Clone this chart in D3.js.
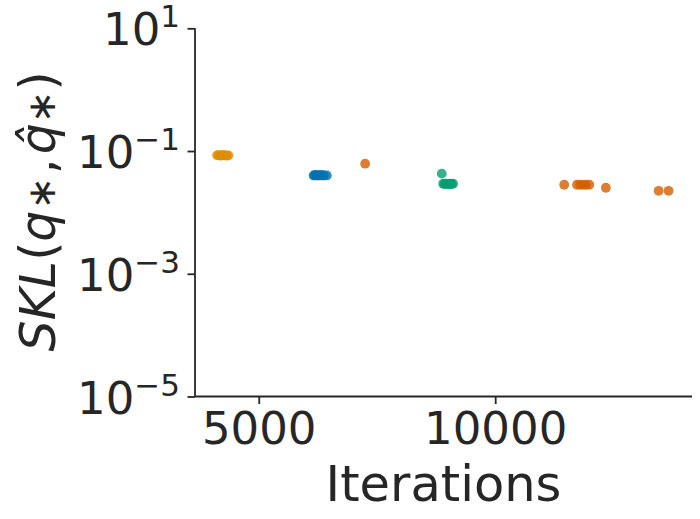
<!DOCTYPE html>
<html>
<head>
<meta charset="utf-8">
<script src="https://cdn.jsdelivr.net/npm/d3@7"></script>
<style>
  html, body { margin: 0; padding: 0; background: #ffffff; }
  svg { display: block; font-family: "DejaVu Sans", sans-serif; }
</style>
</head>
<body>
<svg id="chart" width="700" height="519"></svg>
<script>
// ---- data ----
const yellowX = [4120, 4150, 4180, 4200, 4220, 4250, 4270, 4300, 4330, 4360];
const yellowY = [0.085, 0.086, 0.085, 0.084, 0.085, 0.086, 0.085, 0.085, 0.084, 0.085];
const blueX = [6160, 6180, 6200, 6230, 6260, 6290, 6320, 6350, 6380, 6440];
const blueY = [0.040, 0.040, 0.041, 0.040, 0.040, 0.040, 0.041, 0.040, 0.040, 0.040];
const greenX = [8870, 8900, 8930, 8960, 8990, 9010, 9040, 9060, 9080, 9110];
const greenY = [0.0428, 0.0293, 0.0290, 0.0295, 0.0292, 0.0290, 0.0293, 0.0291, 0.0292, 0.0293];
const orangeX = [7250, 11460, 11730, 11800, 11860, 11920, 11990, 12340, 13456, 13667];
const orangeY = [0.0622, 0.0282, 0.0282, 0.0282, 0.0281, 0.0282, 0.0282, 0.0252, 0.0225, 0.0225];
const seriesNames = ["yellow", "blue", "green", "orange"];
const seriesColors = ["#de8f05", "#0173b2", "#029e73", "#d55e00"];
const xTicks = [5000, 10000];
const yTickExps = [1, -1, -3, -5];
const xLabel = "Iterations";

const seriesX = [yellowX, blueX, greenX, orangeX];
const seriesY = [yellowY, blueY, greenY, orangeY];

// ---- layout ----
const svg = d3.select("#chart");
const mLeft = 195, mRight = 692, mTop = 28.3, mBottom = 396.5;
const ink = "#262626";

const x = d3.scaleLinear().domain([3652, 14162]).range([mLeft, mRight]);
const y = d3.scaleLog().domain([1e-5, 10]).range([mBottom, mTop]);

// points
seriesNames.forEach((name, i) => {
  const pts = seriesX[i].map((v, j) => ({x: v, y: seriesY[i][j]}));
  svg.append("g").attr("class", "series-" + name)
    .selectAll("circle").data(pts).join("circle")
    .attr("cx", d => x(d.x))
    .attr("cy", d => y(d.y))
    .attr("r", 4.9)
    .attr("fill", seriesColors[i])
    .attr("fill-opacity", 0.8);
});

// x axis
const xAxis = d3.axisBottom(x).tickValues(xTicks).tickSize(7.5).tickPadding(8)
  .tickFormat(d3.format("d"));
const gx = svg.append("g").attr("transform", `translate(0,${mBottom})`).call(xAxis);
gx.select(".domain").attr("stroke", ink).attr("stroke-width", 1.8)
  .attr("d", `M${mLeft},0H${mRight}`);
gx.selectAll(".tick line").attr("stroke", ink).attr("stroke-width", 1.8);
gx.selectAll(".tick text").attr("fill", ink).attr("font-size", 45)
  .attr("font-family", "DejaVu Sans").attr("dy", "0.71em");

// y axis
const yAxis = d3.axisLeft(y).tickValues(yTickExps.map(e => Math.pow(10, e)))
  .tickSize(7.5).tickFormat(() => "");
const gy = svg.append("g").attr("transform", `translate(${mLeft},0)`).call(yAxis);
gy.select(".domain").attr("stroke", ink).attr("stroke-width", 1.8)
  .attr("d", `M0,${mTop}V${mBottom}`);
gy.selectAll(".tick line").attr("stroke", ink).attr("stroke-width", 1.8);
gy.selectAll(".tick text").remove();
gy.selectAll(".tick").each(function(d) {
  const e = Math.round(Math.log10(d));
  const t = d3.select(this).append("text")
    .attr("x", -15).attr("y", 16.5)
    .attr("text-anchor", "end")
    .attr("fill", ink)
    .attr("font-family", "DejaVu Sans")
    .attr("font-size", 45);
  t.append("tspan").text("10");
  t.append("tspan").attr("dy", -18).attr("font-size", 31)
    .text(e < 0 ? "\u2212" + Math.abs(e) : String(e));
});

// x label
svg.append("text")
  .attr("x", (mLeft + mRight) / 2).attr("y", 501)
  .attr("text-anchor", "middle")
  .attr("fill", ink).attr("font-size", 49.5)
  .attr("font-family", "DejaVu Sans")
  .text(xLabel);

// y label: SKL(q*, q̂*)
const yl = svg.append("text")
  .attr("transform", `translate(55,${(mTop + mBottom) / 2 - 1}) rotate(-90)`)
  .attr("text-anchor", "middle")
  .attr("fill", ink).attr("font-size", 49)
  .attr("font-family", "DejaVu Sans");
yl.append("tspan").attr("font-style", "italic").text("SKL");
yl.append("tspan").text("(");
yl.append("tspan").attr("font-style", "italic").text("q");
yl.append("tspan").attr("font-size", 39).attr("dx", 1).text("\u2217");
yl.append("tspan").attr("dx", 3).text(",");
yl.append("tspan").attr("dx", 4).attr("font-style", "italic").text("q\u0302");
yl.append("tspan").attr("font-size", 39).text("\u2217");
yl.append("tspan").text(")");
</script>
</body>
</html>
